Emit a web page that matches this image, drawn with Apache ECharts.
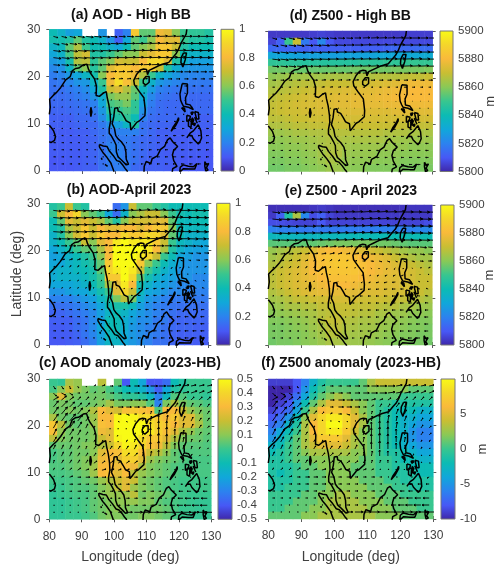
<!DOCTYPE html>
<html>
<head>
<meta charset="utf-8">
<style>html,body{margin:0;padding:0;background:#fff}#chart{width:500px;height:571px}</style>
<script src="https://cdn.jsdelivr.net/npm/echarts@6/dist/echarts.min.js"></script>
</head>
<body>
<div id="chart"></div>
<script>
// Cell centres of the gridded fields (rows are listed north to south)
const cellLons = [81.25,83.75,86.25,88.75,91.25,93.75,96.25,98.75,101.25,103.75,106.25,108.75,111.25,113.75,116.25,118.75,121.25,123.75,126.25,128.75];
const cellLats = [29.25,27.75,26.25,24.75,23.25,21.75,20.25,18.75,17.25,15.75,14.25,12.75,11.25,9.75,8.25,6.75,5.25,3.75,2.25,0.75];
// Wind vector rows, north to south; columns use cellLons
const windLats = [28.5,27,25.5,24,22.5,21,19.5,18,16.5,15,13.5,12,10.5,9,7.5,6,4.5,3,1.5];

const aodHighBB = [
[.40,.35,.28,.30,null,null,.25,null,.12,.20,.85,.55,.55,.78,.75,.60,.50,.48,.48,.45],
[.42,.42,.45,.55,.45,.40,.35,.25,.12,.30,.55,.50,.60,.80,.75,.75,.50,.45,.45,.42],
[.35,.38,.55,.66,.50,.40,.40,.35,.30,.40,.55,.60,.65,.85,.85,.70,.45,.40,.40,.40],
[.30,.35,.52,.68,.72,.45,.45,.50,.55,.60,.60,.70,.75,.85,.85,.60,.40,.35,.35,.35],
[.26,.28,.42,.66,.68,.48,.55,.60,.72,.70,.70,.80,.90,.90,.75,.45,.35,.28,.28,.28],
[.22,.24,.36,.55,.60,.46,.55,.75,.85,.85,.80,.85,.85,.70,.45,.33,.26,.25,.25,.25],
[.19,.21,.26,.30,.36,.42,.60,.80,.85,.85,.78,.66,.50,.36,.30,.26,.22,.21,.21,.21],
[.17,.18,.21,.25,.26,.36,.50,.78,.92,.82,.70,.50,.35,.26,.23,.21,.20,.18,.18,.18],
[.16,.16,.18,.20,.23,.30,.44,.70,.74,.66,.56,.38,.27,.20,.18,.17,.17,.16,.16,.16],
[.15,.15,.16,.18,.20,.25,.34,.58,.62,.62,.54,.33,.22,.17,.16,.15,.15,.14,.14,.14],
[.14,.14,.15,.16,.17,.20,.30,.52,.54,.58,.48,.28,.19,.15,.14,.14,.14,.14,.14,.14],
[.13,.13,.14,.15,.16,.18,.26,.46,.48,.52,.48,.24,.17,.15,.14,.14,.14,.14,.14,.14],
[.12,.12,.12,.14,.14,.16,.23,.38,.44,.48,.40,.20,.15,.14,.14,.14,.13,.12,.12,.12],
[.12,.12,.12,.13,.14,.14,.18,.24,.28,.36,.44,.16,.14,.13,.13,.12,.12,.12,.12,.12],
[.11,.11,.11,.12,.12,.14,.16,.18,.20,.20,.20,.16,.14,.12,.12,.11,.11,.11,.11,.11],
[.11,.11,.11,.11,.12,.13,.16,.18,.18,.18,.16,.14,.13,.12,.11,.11,.11,.11,.11,.11],
[.11,.11,.11,.11,.12,.13,.16,.20,.20,.18,.16,.14,.13,.12,.11,.11,.11,.11,.11,.11],
[.11,.11,.11,.11,.12,.13,.16,.20,.20,.18,.16,.14,.12,.12,.11,.11,.11,.11,.11,.10],
[.10,.10,.11,.11,.12,.13,.16,.19,.20,.18,.16,.13,.12,.12,.12,.11,.10,.10,.10,.10],
[.10,.10,.10,.11,.12,.12,.16,.18,.19,.18,.14,.13,.12,.12,.11,.11,.10,.10,.10,.10]];

const aodApril2023 = [
[.45,.50,.70,.50,.45,null,null,null,.15,.25,.70,.55,.55,.50,.45,.40,.40,.40,.40,.40],
[.50,.70,.80,.90,.60,.55,.50,.30,.15,.35,.60,.65,.70,.70,.60,.50,.42,.40,.42,.42],
[.40,.55,.75,.70,.75,.70,.65,.55,.45,.60,.70,.72,.72,.75,.75,.55,.40,.38,.40,.40],
[.40,.45,.65,.70,.85,.70,.80,.75,.75,.80,.80,.75,.80,.85,.85,.60,.40,.38,.38,.38],
[.35,.45,.60,.72,.85,.70,.85,.80,.80,.90,.85,.85,.90,.90,.75,.55,.40,.35,.35,.35],
[.35,.40,.50,.55,.70,.60,.75,.80,.95,1,.95,.95,.95,.85,.70,.50,.38,.35,.32,.30],
[.30,.35,.42,.50,.55,.55,.65,.80,1,1,1,1,.95,.80,.65,.45,.35,.30,.28,.28],
[.28,.30,.35,.40,.45,.50,.60,.80,1,1,1,.95,.90,.70,.50,.40,.30,.28,.25,.25],
[.30,.30,.35,.38,.42,.45,.55,.85,1,1,1,.85,.60,.50,.40,.33,.28,.25,.25,.25],
[.32,.35,.35,.38,.40,.42,.55,.90,.95,1,.95,.70,.50,.42,.35,.30,.25,.25,.25,.25],
[.32,.35,.35,.35,.38,.42,.50,.85,.85,1,.90,.55,.42,.35,.30,.28,.25,.25,.22,.22],
[.30,.30,.30,.32,.35,.40,.48,.65,.75,.95,.80,.42,.35,.30,.28,.25,.22,.22,.22,.22],
[.25,.25,.28,.30,.30,.35,.42,.50,.75,.90,.70,.38,.30,.28,.25,.22,.22,.20,.20,.20],
[.20,.20,.20,.23,.26,.28,.36,.43,.58,.68,.58,.33,.26,.23,.20,.18,.18,.18,.18,.18],
[.16,.16,.17,.19,.22,.25,.30,.40,.43,.43,.38,.28,.23,.20,.18,.17,.16,.16,.16,.16],
[.13,.13,.15,.17,.19,.22,.28,.36,.40,.36,.30,.26,.23,.20,.18,.16,.14,.14,.14,.14],
[.12,.12,.12,.15,.17,.22,.28,.40,.40,.33,.28,.23,.23,.18,.18,.14,.13,.13,.13,.13],
[.11,.11,.12,.15,.17,.22,.30,.40,.40,.33,.26,.23,.20,.18,.16,.14,.13,.13,.12,.12],
[.11,.11,.11,.13,.17,.21,.28,.38,.38,.31,.26,.23,.20,.18,.16,.13,.12,.12,.12,.12],
[.10,.10,.11,.12,.15,.19,.28,.36,.36,.30,.26,.23,.20,.16,.16,.13,.12,.11,.11,.11]];

const aodAnomaly = [
[0,-.02,.15,.12,null,null,.18,null,.05,-.4,-.1,-.2,-.4,-.4,-.35,-.1,-.05,0,0,0],
[.02,.10,.20,.12,.08,.05,.07,.02,-.03,-.10,-.12,-.15,-.25,-.38,-.20,-.05,-.02,0,0,0],
[.10,.25,.10,.07,.07,.07,.07,.05,.02,-.02,-.02,-.05,-.12,-.30,-.12,.03,.03,0,0,-.02],
[.06,.08,.07,.05,.05,.07,.09,.14,.08,.08,.10,.10,.03,-.30,.08,.15,.08,.05,.04,.02],
[.07,.07,.09,.07,.09,.16,.30,.25,.22,.32,.35,.32,.30,.03,.30,.30,.20,.12,.08,.06],
[.15,.07,.05,.05,.07,.13,.30,.30,.48,.50,.48,.42,.40,.35,.30,.35,.25,.25,.12,.06],
[.35,.18,.07,.05,.07,.12,.32,.30,.50,.50,.50,.50,.42,.38,.35,.30,.25,.25,.15,.06],
[.32,.12,.07,.07,.07,.09,.28,.25,.50,.50,.50,.50,.45,.38,.32,.25,.16,.12,.07,.05],
[.18,.09,.07,.07,.07,.09,.20,.25,.48,.50,.50,.42,.35,.35,.25,.16,.09,.07,.06,.04],
[.05,.06,.06,.07,.09,.10,.16,.20,.40,.48,.45,.40,.32,.28,.18,.09,.05,.04,.04,.03],
[.02,.04,.05,.07,.07,.10,.25,.30,.32,.42,.42,.32,.20,.17,.11,.05,.03,.03,.03,.03],
[.02,.04,.05,.07,.09,.13,.28,.30,.25,.38,.38,.25,.13,.09,.07,.05,.03,.02,.02,.02],
[.03,.03,.05,.07,.09,.13,.30,.30,.28,.32,.28,.16,.09,.07,.05,.03,.02,.02,.02,.02],
[.02,.02,.03,.05,.07,.13,.30,.32,.25,.30,.18,.12,.09,.07,.05,.03,.02,.02,.02,.02],
[.01,.01,.02,.03,.05,.07,.12,.16,.20,.25,.20,.09,.07,.05,.03,.02,.01,.01,.01,.01],
[0,0,.02,.03,.03,.05,.09,.12,.18,.25,.13,.09,.07,.05,.03,.02,.01,.01,.01,.01],
[-.02,0,.01,.02,.02,.05,.09,.12,.12,.13,.18,.07,.09,.07,.05,.02,.01,0,0,0],
[-.02,-.02,0,.01,.02,.05,.07,.09,.11,.11,.12,.09,.09,.05,.03,.02,.01,0,-.01,-.01],
[-.02,-.02,0,.01,.02,.05,.07,.09,.11,.09,.07,.07,.07,.07,.05,.02,0,0,-.01,-.01],
[-.02,-.02,0,0,.01,.03,.07,.09,.09,.07,.07,.09,.09,.07,.05,.02,0,-.01,-.01,-.01]];

const z500HighBB = [
[5804,5804,5804,5804,5804,5805,5806,5805,5804,5804,5804,5804,5804,5804,5804,5804,5805,5805,5805,5805],
[5806,5812,5850,5870,5818,5810,5822,5810,5807,5807,5807,5807,5807,5807,5807,5807,5807,5807,5807,5807],
[5814,5814,5813,5813,5812,5812,5812,5812,5812,5812,5812,5812,5812,5812,5813,5814,5814,5814,5815,5815],
[5830,5830,5830,5829,5828,5828,5828,5828,5828,5829,5829,5829,5829,5830,5830,5830,5831,5831,5831,5832],
[5848,5848,5847,5847,5846,5846,5846,5846,5846,5846,5846,5847,5847,5847,5848,5848,5848,5849,5849,5849],
[5857,5857,5857,5856,5856,5856,5856,5856,5856,5856,5857,5857,5857,5857,5857,5858,5858,5858,5858,5859],
[5861,5862,5863,5863,5864,5864,5864,5865,5865,5865,5865,5866,5866,5867,5867,5867,5868,5869,5869,5870],
[5864,5865,5866,5867,5868,5868,5869,5870,5870,5870,5871,5871,5872,5873,5874,5875,5876,5878,5878,5878],
[5866,5867,5868,5869,5870,5871,5872,5873,5873,5874,5874,5875,5875,5876,5877,5878,5879,5880,5880,5880],
[5868,5869,5870,5871,5872,5873,5874,5874,5875,5875,5876,5876,5876,5877,5878,5879,5880,5880,5880,5880],
[5869,5870,5871,5872,5873,5873,5874,5874,5875,5875,5876,5876,5876,5876,5877,5877,5878,5878,5878,5878],
[5869,5870,5871,5871,5872,5872,5873,5873,5873,5874,5874,5874,5874,5874,5874,5875,5875,5875,5875,5875],
[5868,5868,5869,5870,5870,5871,5871,5872,5872,5872,5872,5872,5872,5872,5872,5872,5872,5872,5872,5872],
[5866,5866,5867,5868,5868,5869,5869,5870,5870,5870,5870,5870,5870,5870,5870,5870,5869,5869,5869,5869],
[5863,5863,5864,5865,5865,5866,5866,5867,5867,5867,5867,5867,5867,5867,5866,5866,5866,5865,5865,5865],
[5861,5861,5862,5863,5863,5864,5865,5866,5866,5865,5865,5865,5865,5865,5864,5864,5863,5863,5863,5863],
[5860,5860,5861,5861,5862,5863,5865,5866,5866,5864,5863,5863,5863,5863,5862,5862,5862,5861,5861,5861],
[5859,5859,5860,5860,5861,5862,5864,5866,5866,5863,5862,5862,5862,5861,5861,5861,5860,5860,5860,5860],
[5858,5858,5859,5859,5860,5861,5863,5865,5864,5862,5861,5861,5861,5860,5860,5860,5859,5859,5859,5859],
[5857,5857,5858,5858,5859,5860,5861,5863,5863,5861,5860,5860,5859,5859,5859,5859,5858,5858,5858,5858]];

const z500April2023 = [
[5802,5802,5802,5802,5802,5803,5804,5803,5802,5802,5802,5802,5802,5802,5802,5802,5803,5803,5803,5803],
[5804,5812,5845,5865,5822,5808,5812,5806,5804,5804,5804,5804,5804,5804,5804,5804,5804,5804,5804,5804],
[5808,5808,5807,5806,5806,5806,5810,5806,5806,5806,5806,5806,5806,5806,5806,5806,5806,5806,5806,5808],
[5820,5820,5820,5819,5818,5818,5818,5818,5818,5819,5819,5819,5819,5820,5820,5820,5820,5820,5821,5822],
[5838,5838,5838,5837,5837,5837,5838,5838,5838,5838,5839,5839,5839,5839,5840,5840,5840,5840,5840,5840],
[5854,5854,5854,5854,5855,5855,5856,5857,5858,5858,5858,5858,5858,5857,5857,5856,5855,5854,5854,5854],
[5862,5864,5866,5868,5870,5874,5878,5880,5880,5878,5876,5874,5872,5870,5868,5866,5864,5862,5862,5860],
[5864,5866,5868,5870,5874,5878,5882,5884,5884,5884,5882,5880,5878,5876,5874,5870,5868,5866,5864,5864],
[5866,5868,5870,5872,5876,5880,5882,5884,5885,5885,5884,5882,5880,5878,5876,5874,5872,5870,5868,5866],
[5868,5870,5872,5874,5876,5880,5882,5884,5884,5884,5884,5882,5880,5878,5876,5875,5874,5872,5870,5868],
[5868,5870,5872,5874,5876,5878,5880,5882,5882,5882,5882,5880,5878,5876,5875,5874,5874,5872,5870,5870],
[5868,5870,5872,5874,5875,5876,5878,5880,5880,5880,5878,5876,5876,5875,5874,5874,5872,5872,5870,5870],
[5866,5868,5870,5872,5874,5875,5876,5876,5876,5876,5875,5875,5874,5874,5873,5872,5872,5870,5870,5868],
[5864,5865,5867,5869,5869,5871,5871,5873,5873,5873,5872,5871,5871,5871,5870,5869,5869,5867,5867,5865],
[5862,5863,5865,5865,5867,5867,5869,5869,5870,5870,5869,5869,5869,5868,5867,5867,5865,5865,5863,5863],
[5860,5861,5862,5863,5864,5865,5867,5868,5869,5869,5868,5867,5867,5865,5865,5863,5863,5861,5861,5860],
[5859,5859,5860,5861,5862,5864,5867,5869,5869,5867,5866,5865,5865,5864,5863,5862,5861,5860,5859,5859],
[5858,5858,5859,5860,5861,5863,5865,5868,5868,5866,5865,5864,5864,5863,5862,5861,5860,5859,5859,5858],
[5858,5858,5859,5859,5860,5862,5864,5867,5867,5865,5864,5864,5863,5862,5861,5860,5859,5859,5858,5858],
[5857,5858,5858,5859,5860,5861,5863,5865,5865,5864,5863,5863,5862,5861,5860,5859,5859,5858,5858,5857]];

const z500Anomaly = [
[-9,-9,-9,-8,-6,-3,-1,0,0,0,0,1,3,4,4,4,4,4,4,4],
[-10,-10,-10,-8,-5,-2,0,1,1,1,1,1,2,2,2,2,2,1,1,1],
[-10,-10,-9,-7,-4,-1,1,2,3,2,1,1,1,1,1,1,0,0,0,0],
[-10,-9,-8,-5,-2,1,3,5,5,4,3,2,1,0,0,-1,-1,-1,-1,-1],
[-9,-8,-7,-4,0,3,6,7,7,6,4,2,1,0,-1,-2,-2,-2,-3,-3],
[-8,-7,-5,-2,2,5,8,9,9,8,5,3,1,0,-1,-2,-3,-3,-4,-4],
[-7,-6,-3,-1,3,6,8,10,10,8,5,3,1,0,-1,-2,-3,-4,-5,-5],
[-6,-4,-2,0,3,6,8,9,9,7,4,2,1,0,-1,-2,-3,-5,-6,-6],
[-5,-3,-1,1,3,5,7,7,7,5,3,2,1,0,-1,-2,-3,-5,-6,-6],
[-3,-2,0,1,3,4,5,5,5,4,3,2,1,0,-1,-2,-3,-4,-5,-5],
[-2,-1,0,1,2,3,3,3,3,3,2,2,1,0,-1,-1,-2,-3,-4,-4],
[-1,-1,0,1,1,2,2,2,2,2,2,1,1,0,0,-1,-2,-2,-3,-3],
[-1,-1,-1,0,1,1,2,2,2,2,1,1,1,0,0,-1,-1,-2,-2,-2],
[-1,-2,-1,0,0,1,1,2,2,2,1,1,1,0,0,-1,-1,-1,-2,-2],
[-1,-1,-1,0,0,1,1,2,2,2,2,1,1,1,0,0,-1,-1,-1,-1],
[-1,-1,0,0,0,1,1,2,2,2,2,2,1,1,1,0,0,-1,-1,-1],
[0,0,0,0,1,1,2,2,3,3,2,2,2,1,1,1,0,0,0,0],
[0,0,0,1,1,1,2,3,3,3,3,2,2,2,1,1,1,0,0,0],
[0,0,1,1,1,2,2,3,3,3,3,3,2,2,2,1,1,1,0,0],
[1,1,1,1,2,2,3,3,3,3,3,3,3,2,2,2,1,1,1,1]];

const windUHighBB = [
[14,16,18,20,22,22,22,20,20,20,20,22,24,24,24,24,24,24,24,24],
[18,20,22,22,24,24,24,24,24,24,26,26,26,26,28,28,28,28,28,28],
[22,24,24,26,26,26,26,26,26,28,28,28,28,30,30,30,30,30,30,30],
[24,24,24,26,26,26,26,26,26,26,26,26,28,28,30,30,30,30,30,30],
[20,22,22,22,24,24,24,24,24,24,24,24,24,26,26,26,26,26,26,26],
[14,14,16,16,18,18,18,18,18,18,18,18,20,20,20,20,20,18,18,18],
[10,10,10,10,12,12,12,12,12,12,12,12,12,12,12,12,12,12,12,12],
[6,6,6,6,8,8,8,8,8,6,6,6,6,6,6,6,8,8,8,6],
[4,4,4,4,5,5,5,5,5,4,3,3,3,3,3,3,3,3,3,3],
[3,3,3,3,3,3,3,3,3,3,2,2,1,1,1,1,1,1,1,1],
[3,3,3,3,3,3,3,2,2,1,1,0,-1,-1,-2,-2,-2,-2,-2,-2],
[3,3,3,3,3,3,2,2,1,1,0,-2,-3,-4,-4,-4,-4,-4,-4,-4],
[3,3,3,3,3,3,2,2,1,1,-2,-3,-5,-6,-6,-6,-6,-6,-6,-6],
[4,4,4,4,4,3,3,2,1,-1,-3,-5,-6,-7,-7,-7,-7,-7,-7,-7],
[5,5,5,5,4,4,3,2,-1,-3,-5,-6,-7,-8,-8,-8,-8,-8,-8,-8],
[6,6,6,5,5,4,3,2,-1,-3,-5,-6,-7,-8,-8,-8,-9,-9,-9,-9],
[6,6,6,5,5,4,3,1,-2,-4,-5,-7,-8,-8,-8,-8,-9,-9,-9,-9],
[6,6,6,5,5,4,3,1,-2,-4,-6,-7,-8,-8,-8,-9,-9,-9,-9,-9],
[6,6,6,6,5,4,3,2,-2,-4,-6,-7,-8,-8,-8,-9,-9,-9,-9,-9]];
const windVHighBB = [
[-4,-4,-4,-3,-3,-2,-2,-2,-1,-1,0,1,1,1,1,1,0,0,0,0],
[-4,-4,-3,-3,-2,-2,-2,-1,-1,0,0,1,1,1,1,1,0,0,0,0],
[-3,-3,-3,-2,-2,-2,-1,-1,0,0,1,1,1,1,1,1,1,0,0,0],
[-3,-3,-2,-2,-2,-1,-1,0,0,1,1,1,1,1,1,1,1,1,0,0],
[-2,-2,-2,-2,-1,-1,0,0,1,1,1,1,1,1,1,1,1,1,1,0],
[-1,-1,-1,-1,0,0,0,1,1,1,1,1,1,1,1,0,0,0,0,0],
[0,0,0,0,0,0,1,1,1,1,1,1,0,0,0,0,0,0,0,0],
[0,0,0,1,1,1,1,1,1,1,0,0,0,0,0,0,0,0,0,0],
[0,0,1,1,1,1,1,1,1,0,0,0,0,-1,-1,-1,-1,0,0,0],
[0,1,1,1,1,1,1,1,0,0,0,0,-1,-1,-1,-1,-1,0,0,0],
[0,1,1,1,1,1,1,0,0,0,0,0,0,-1,-1,-1,0,0,0,0],
[0,0,1,1,1,1,0,0,0,0,0,0,0,0,0,0,0,0,0,0],
[0,0,0,0,0,0,0,0,0,0,0,0,0,0,0,0,0,0,0,0],
[0,0,0,0,0,0,0,0,0,0,0,0,0,0,0,0,0,0,0,0],
[0,0,0,0,0,0,0,0,0,0,0,0,0,0,0,0,0,0,0,0],
[0,0,0,0,0,0,0,0,0,0,0,0,0,0,0,0,0,0,0,0],
[0,0,0,0,0,0,0,0,0,0,0,0,0,0,0,0,0,0,0,0],
[0,0,0,0,0,0,0,0,0,0,0,0,0,0,0,0,0,0,0,0],
[0,0,0,0,0,0,0,0,0,0,0,0,0,0,0,0,0,0,0,0]];

const windUApril2023 = [
[24,26,26,26,26,26,26,26,26,26,26,28,28,28,30,30,30,30,30,30],
[28,28,28,28,28,28,30,30,30,30,30,30,30,32,32,32,34,34,34,34],
[30,30,30,30,32,32,32,32,32,32,32,32,34,34,34,34,36,36,36,36],
[30,30,30,30,30,30,30,32,32,32,32,32,34,34,34,34,34,34,34,34],
[24,26,26,28,28,28,28,28,28,28,28,28,30,30,30,30,30,30,30,28],
[18,18,20,20,20,20,20,20,20,20,22,22,22,22,22,22,22,22,20,20],
[14,14,14,14,14,14,14,14,12,12,14,14,14,14,14,16,14,14,14,14],
[8,10,10,10,8,8,8,6,6,6,8,8,8,8,8,6,6,8,10,10],
[5,6,6,6,6,4,3,2,2,3,3,3,2,0,-2,-4,-2,2,4,6],
[4,4,4,4,4,3,2,1,1,1,0,-2,-3,-6,-7,-7,-6,-3,0,2],
[3,3,3,4,3,3,2,1,0,-1,-2,-4,-6,-8,-9,-9,-8,-6,-4,-2],
[3,4,4,4,4,3,2,0,-1,-3,-5,-6,-8,-9,-9,-10,-9,-8,-7,-6],
[5,5,6,6,6,5,4,2,0,-2,-5,-7,-8,-9,-9,-10,-10,-9,-9,-8],
[6,7,8,8,8,7,5,3,0,-2,-5,-7,-8,-9,-10,-10,-10,-10,-10,-10],
[7,8,8,9,8,7,5,3,0,-3,-5,-7,-9,-9,-10,-10,-10,-10,-10,-10],
[8,8,9,8,7,6,4,2,0,-3,-6,-7,-9,-9,-10,-10,-11,-11,-11,-11],
[8,8,8,7,6,5,3,1,-2,-4,-6,-8,-9,-10,-10,-10,-11,-11,-11,-11],
[7,7,7,6,5,4,3,1,-2,-4,-6,-8,-9,-10,-10,-11,-11,-11,-11,-11],
[7,7,6,6,5,4,2,0,-2,-4,-6,-8,-9,-10,-10,-11,-11,-11,-11,-11]];
const windVApril2023 = [
[-3,-3,-2,-2,-2,-1,-1,0,0,1,1,2,2,2,1,1,0,0,-1,-1],
[-3,-2,-2,-2,-1,-1,0,0,1,1,1,2,2,2,1,1,0,0,-1,-1],
[-2,-2,-2,-1,-1,0,0,1,1,1,1,2,2,2,1,1,0,0,-1,-1],
[-2,-2,-1,-1,0,0,1,1,1,1,2,2,2,1,1,1,0,0,-1,-1],
[-1,-1,-1,0,0,1,1,1,1,2,2,2,1,1,1,0,0,-1,-1,-1],
[0,0,0,1,1,1,2,2,2,2,2,1,1,0,0,-1,-1,-1,-2,-2],
[0,1,1,2,2,2,2,3,3,2,2,1,0,-1,-1,-2,-2,-2,-2,-1],
[1,2,3,3,3,3,4,4,3,2,1,0,-1,-2,-3,-3,-3,-2,-1,0],
[2,3,4,4,4,4,4,4,3,2,1,0,-2,-3,-4,-4,-3,-1,1,2],
[2,3,4,4,4,4,4,3,2,1,0,-1,-2,-3,-3,-3,-2,0,2,3],
[2,3,3,3,3,3,3,2,1,0,-1,-2,-2,-2,-2,-1,0,1,2,3],
[1,2,2,2,2,2,2,1,0,-1,-1,-1,-1,-1,-1,0,0,1,2,2],
[1,1,1,1,1,1,1,0,0,0,0,0,0,0,0,0,0,1,1,1],
[0,0,0,0,0,0,0,0,0,0,0,0,0,0,0,0,0,0,0,1],
[0,0,0,0,0,0,0,0,0,0,0,0,0,0,0,0,0,0,0,0],
[0,0,0,0,0,0,0,0,0,0,0,0,0,0,0,0,0,0,0,0],
[0,0,0,0,0,0,0,0,0,0,0,0,0,0,0,0,0,0,0,0],
[0,0,0,0,0,0,0,0,0,0,0,0,0,0,0,0,0,0,0,0],
[0,0,0,0,0,0,0,0,0,0,0,0,0,0,0,0,0,0,0,0]];

const windUAnomaly = [
[2,2,1,1,1,2,3,3,3,4,5,6,7,7,7,6,6,5,5,5],
[3,4,3,2,2,2,3,4,4,4,5,6,6,7,7,6,6,6,5,5],
[5,5,4,3,3,2,2,4,6,6,6,5,4,3,3,3,3,3,3,3],
[5,6,5,4,4,3,2,3,5,5,5,3,2,2,2,3,2,2,2,2],
[5,6,6,5,4,3,2,2,3,3,2,2,1,1,1,2,2,2,2,2],
[5,6,6,5,3,2,1,1,1,1,1,1,1,0,1,1,2,2,2,2],
[4,5,5,4,2,1,0,0,0,0,0,1,0,0,0,1,1,2,2,2],
[3,4,4,3,2,1,0,-1,-1,0,1,1,0,0,0,0,1,1,2,2],
[3,3,3,2,1,1,1,0,0,1,1,1,0,0,0,0,1,1,1,1],
[2,2,2,2,1,2,2,2,2,2,2,1,0,0,0,0,1,1,1,1],
[2,2,2,2,2,2,3,3,3,3,3,1,1,0,0,0,1,1,1,1],
[1,2,2,2,2,3,3,3,3,3,3,2,1,1,0,0,0,1,1,1],
[1,2,2,3,3,3,4,4,3,3,3,3,2,1,1,0,0,0,0,0],
[1,2,3,3,4,4,4,4,3,3,3,3,3,2,1,1,0,-1,-1,-2],
[2,2,3,3,3,4,4,3,3,3,3,3,2,2,0,-1,-2,-3,-3,-3],
[2,2,2,3,3,3,3,3,3,3,3,3,3,2,0,-2,-4,-4,-4,-4],
[2,2,2,2,2,2,2,2,2,3,3,3,3,3,-1,-3,-5,-6,-6,-6],
[1,1,1,1,1,1,1,1,2,3,3,3,3,2,-2,-5,-6,-7,-7,-7],
[1,1,1,1,1,1,2,2,4,6,8,8,8,8,8,8,8,8,8,8]];
const windVAnomaly = [
[-3,-3,-3,-2,-1,1,1,0,0,0,0,0,0,0,0,1,1,1,1,1],
[-3,-2,-2,0,1,1,1,0,0,0,0,0,0,0,1,1,1,2,2,2],
[3,4,3,3,3,3,1,0,0,0,0,0,1,1,2,3,3,3,3,3],
[6,6,5,4,4,3,2,0,0,0,0,0,2,3,3,4,4,4,3,3],
[7,7,7,6,4,3,2,1,0,-1,0,1,3,4,5,5,4,4,4,3],
[7,8,7,6,4,2,1,0,-1,-1,0,2,5,6,6,5,5,4,3,3],
[7,7,7,6,4,2,0,-1,-1,-1,1,3,6,7,7,6,5,4,3,2],
[6,6,6,5,3,2,1,0,-1,0,2,4,7,8,8,6,5,4,3,2],
[5,5,5,4,3,2,2,1,1,2,3,5,8,9,8,6,5,3,2,2],
[4,4,4,3,3,3,3,3,3,3,4,5,7,8,7,6,4,3,2,1],
[4,4,4,3,3,3,3,3,3,3,3,4,5,6,5,4,3,2,1,1],
[3,3,3,3,3,2,2,2,2,2,2,3,3,3,3,2,2,1,1,0],
[2,2,2,2,1,1,1,1,1,1,1,1,1,1,1,1,1,0,0,0],
[1,1,1,0,0,0,0,0,0,0,0,0,0,0,0,0,0,0,-1,-1],
[1,0,0,0,0,0,0,0,0,0,0,0,0,0,0,0,0,0,0,0],
[0,0,0,0,0,0,0,0,0,0,0,0,0,0,0,0,0,0,0,0],
[0,0,0,0,0,0,0,0,0,0,0,0,0,0,0,0,0,0,0,0],
[0,0,0,0,0,0,0,0,0,0,0,0,0,0,0,0,0,0,0,0],
[0,0,0,0,0,0,0,0,0,0,0,0,0,0,0,0,0,0,0,0]];

// Coastlines as lon/lat outlines; points just below 0 are cut by the axes
const coastMainland = [[80,12],[80.3,13.5],[80.1,15.2],[81.2,16],[82.3,16.7],[83.5,17.7],[85,19.3],[86.4,20],[87,21.2],[88,21.7],[89,21.8],[90.5,22.5],[91.5,22.6],[92,21.5],[92.5,20.8],[93.8,19.5],[94.4,18],[94.3,16],[95.3,15.8],[96.5,16.5],[97.4,16.8],[97.7,15.5],[98.2,14],[98.6,12],[98.7,10.5],[98.3,9],[98.3,8],[99,7.4],[99.8,6.4],[100.4,5.5],[100.5,4],[101,3],[101.8,2.5],[102.8,1.8],[103.5,1.3],[104.2,1.4],[103.5,2.5],[103.4,4],[103,5.2],[102,6.2],[101,6.8],[100.3,7.5],[99.9,9],[99.2,10],[99.7,11.5],[100,13.3],[100.9,13.4],[101,12.7],[102,12.4],[102.8,11.5],[103.5,10.6],[104.7,10.2],[104.9,8.7],[105.5,9.2],[106.7,10.3],[107.5,10.6],[109.2,11.7],[109.3,13],[108.9,15.5],[107.5,16.8],[106,18.3],[105.8,19.2],[106.7,20.5],[107.8,21.4],[108.8,21.6],[109.7,21.5],[110,20.4],[110.5,20.5],[110.5,21.3],[112,21.8],[113.5,22.3],[114.5,22.6],[116.5,23],[117.8,24.1],[118.7,24.8],[119.5,25.8],[120.2,27],[121,28],[121.8,29],[122,30]];
const coastSriLanka = [[80,9.7],[80.8,9],[81.3,8.5],[81.9,7.3],[81.6,6.5],[80.5,6],[80,6.2]];
const coastHainan = [[108.7,19.3],[109.5,20],[110.5,20],[111,19.6],[110.5,18.8],[109.5,18.2],[108.7,18.6],[108.7,19.3]];
const coastTaiwan = [[121,25],[121.9,25],[121.5,23.5],[120.8,22],[120.2,23],[120.3,24],[121,25]];
const coastAndaman = [[92.7,13.5],[93,12.5],[92.7,11.5],[92.5,12.5],[92.7,13.5]];
const coastSumatra = [[95.3,5.6],[96.5,5.3],[97.6,5.2],[98.3,4.3],[99.5,3.3],[100.6,2.2],[101.5,2],[102.5,1.2],[103.2,0.5],[103.8,0],[103.9,-0.5],[99.7,-0.5],[99.7,0],[98.8,1.7],[97.6,2.9],[96.5,3.8],[95.3,5.1],[95.3,5.6]];
const coastNias = [[97,1.4],[97.8,1],[98,0.6],[97.5,0.7],[97,1.4]];
const coastSimeulue = [[95.9,2.8],[96.3,2.5],[96.1,2.4],[95.9,2.8]];
const coastBorneo = [[108.9,-0.5],[109,1],[109.6,2],[111,1.6],[111.4,2.6],[113,3.2],[114,4.6],[115.2,5.2],[116.1,6.6],[116.9,7],[117.7,6.2],[119.2,5.2],[118,4.4],[117.6,3.4],[118,2.2],[119,1],[117.7,0.5],[117.5,-0.5]];
const coastSulawesi = [[119.8,-0.5],[120,0.8],[120.9,1.3],[122.5,1],[124,0.9],[125.1,1.6],[124.4,0.4],[123,0.4],[121,0.5],[120.2,0],[120.1,-0.5]];
const coastHalmahera = [[127.5,2],[128,1.3],[128.7,1.6],[128,0.7],[128.5,0.2],[127.8,0],[127.5,1],[127.5,2]];
const coastLuzon = [[120.6,18.5],[122.2,18.4],[122.2,16.5],[121.6,15.5],[121.7,14.2],[123,14],[124,13],[123.7,12.7],[122.5,13.5],[121,13.7],[120.6,14.2],[120.1,15],[119.9,16.3],[120.4,16.7],[120.6,18.5]];
const coastMindoro = [[120.4,13.4],[121.3,13.3],[121.5,12.5],[121.1,12.2],[120.4,13.4]];
const coastPanay = [[122,11.8],[123.1,11.6],[122.8,10.7],[122,10.5],[122,11.8]];
const coastMasbate = [[123.2,12.4],[124,12.5],[123.6,11.9],[123.2,12.4]];
const coastNegros = [[122.5,10.9],[123.4,10.9],[123.3,9.2],[122.5,9.5],[122.5,10.9]];
const coastSamar = [[124.4,12.6],[125.5,12.4],[125.7,11],[125,11],[124.4,12.6]];
const coastLeyte = [[124.4,11.4],[125,11],[125.2,10.1],[124.8,10.1],[124.4,11.4]];
const coastCebu = [[123.6,11.3],[124.1,10.8],[123.6,9.8],[123.6,11.3]];
const coastBohol = [[123.8,10],[124.6,10.1],[124.4,9.6],[123.8,9.7],[123.8,10]];
const coastMindanao = [[122,7],[123,8],[124,8.5],[125.5,9.8],[126.3,8.5],[126.5,7],[126,6.2],[125.5,5.7],[125,6],[124,6.8],[123.5,7.5],[122.5,7.5],[122,7]];
const coastPalawan = [[117.2,8.4],[118.5,9.5],[119.5,10.8],[119.5,11.3],[119,10.5],[117.8,9.3],[117.2,8.4]];

const coastPieces = [coastMainland,coastSriLanka,coastHainan,coastTaiwan,coastAndaman,coastSumatra,coastNias,coastSimeulue,coastBorneo,coastSulawesi,coastHalmahera,coastLuzon,coastMindoro,coastPanay,coastMasbate,coastNegros,coastSamar,coastLeyte,coastCebu,coastBohol,coastMindanao,coastPalawan];

const parula = ['#3E26A8','#4758F5','#2C82EF','#11A7DA','#0CBBB4','#38C68F','#8AC956','#C9BE33','#F9BA3B','#F4D62B','#F9FB15'];
const inkTick = '#5a5a5a', inkText = '#404040', font = 'Liberation Sans';

const windHighBB = {u: windUHighBB, v: windVHighBB, scale: 0.32};
const windApril = {u: windUApril2023, v: windVApril2023, scale: 0.32};
const windAnom = {u: windUAnomaly, v: windVAnomaly, scale: 1.0};

// Map panels with their colour bars
const panels = [
  {title:'(a) AOD - High BB',        tx:131, ty:14.5, box:[49.3,29.3,163.7,141.7], bar:[221,13],   field:aodHighBB,    wind:windHighBB, range:[0,1],      step:.2},
  {title:'(b) AOD-April 2023',       tx:129, ty:189,  box:[49.3,203.3,159,141.7],  bar:[216.7,13.3], field:aodApril2023, wind:windApril,  range:[0,1],      step:.2, yName:'Latitude (deg)'},
  {title:'(c) AOD anomaly (2023-HB)',tx:130, ty:362,  box:[49.3,379,162,140.3],    bar:[218,14],   field:aodAnomaly,   wind:windAnom,   range:[-.5,.5],   step:.1, xName:'Longitude (deg)'},
  {title:'(d) Z500 - High BB',       tx:350.3,ty:15.5,box:[268.3,31,164.4,140.5],  bar:[440,13],   field:z500HighBB,   wind:windHighBB, range:[5800,5900],step:20, unit:'m', unitGap:31, right:true},
  {title:'(e) Z500 - April 2023',    tx:351, ty:190,  box:[268.3,205,164,140],     bar:[440.7,13.3],field:z500April2023,wind:windApril,  range:[5800,5900],step:20, unit:'m', unitGap:29, right:true},
  {title:'(f) Z500 anomaly (2023-HB)',tx:351,ty:362.5,box:[268.3,379,165,140],     bar:[441,14],   field:z500Anomaly,  wind:windAnom,   range:[-10,10],   step:5,  unit:'m', unitGap:21, right:true, xName:'Longitude (deg)'}
];

const grid = [], xAxis = [], yAxis = [], series = [], visualMap = [], title = [];

function hiddenValue(gridIndex, min, max) { return {type:'value', gridIndex, min, max, show:false}; }

function arrowItem(scale) {
  return (params, api) => {
    const p = api.coord([api.value(0), api.value(1)]);
    const dx = api.value(2) * scale, dy = -api.value(3) * scale;
    const q = [p[0] + dx, p[1] + dy];
    const c = 0.27 * Math.cos(0.45), s = 0.27 * Math.sin(0.45);
    const b1 = [q[0] - c*dx + s*dy, q[1] - c*dy - s*dx];
    const b2 = [q[0] - c*dx - s*dy, q[1] - c*dy + s*dx];
    return {type:'polyline', silent:true, shape:{points:[p, q, b1, q, b2]},
            style:{fill:'none', stroke:'#000', lineWidth:0.9}};
  };
}

function tickAxis(extra) {
  return Object.assign({type:'value', axisLine:{show:false}, splitLine:{show:false},
    axisTick:{show:true, length:3, lineStyle:{color:inkTick, width:1}}}, extra);
}

panels.forEach(pn => {
  const [l, t, w, h] = pn.box;
  // heat cells on their own band axes
  const hg = grid.length;
  grid.push({left:l, top:t, width:w, height:h});
  xAxis.push({type:'category', gridIndex:hg, data:cellLons, show:false});
  yAxis.push({type:'category', gridIndex:hg, data:cellLats.slice().reverse(), show:false});
  const cells = [];
  pn.field.forEach((row, r) => row.forEach((v, c) => cells.push([c, cellLats.length - 1 - r, v])));
  visualMap.push({show:false, seriesIndex:series.length, dimension:2, min:pn.range[0], max:pn.range[1], inRange:{color:parula}});
  series.push({type:'heatmap', xAxisIndex:xAxis.length-1, yAxisIndex:yAxis.length-1, data:cells, silent:true, z:1, progressive:0});

  // lon/lat axes, wind vectors and coast on top
  const mg = grid.length;
  grid.push({left:l, top:t, width:w, height:h});
  const xi = xAxis.length, yi = yAxis.length;
  xAxis.push(tickAxis({gridIndex:mg, position:'bottom', min:80, max:130, interval:10,
    axisLabel:{show:!!pn.xName, color:inkText, fontFamily:font, fontSize:12, margin:11},
    name:pn.xName||'', nameLocation:'middle', nameGap:31, nameMoveOverlap:false, nameTextStyle:{color:inkText, fontFamily:font, fontSize:14}}));
  xAxis.push(tickAxis({gridIndex:mg, position:'top', min:80, max:130, interval:10, axisLabel:{show:false}}));
  yAxis.push(tickAxis({gridIndex:mg, position:'left', min:0, max:30, interval:10,
    axisLabel:{show:!pn.right, color:inkText, fontFamily:font, fontSize:12, margin:9},
    name:pn.yName||'', nameLocation:'middle', nameGap:25, nameRotate:90, nameMoveOverlap:false, nameTextStyle:{color:inkText, fontFamily:font, fontSize:14}}));
  yAxis.push(tickAxis({gridIndex:mg, position:'right', min:0, max:30, interval:10, axisLabel:{show:false}}));

  const arrows = [];
  windLats.forEach((lat, r) => cellLons.forEach((lon, c) => arrows.push([lon, lat, pn.wind.u[r][c], pn.wind.v[r][c]])));
  series.push({type:'custom', xAxisIndex:xi, yAxisIndex:yi, data:arrows, clip:true, silent:true, z:3,
    encode:{x:0, y:1}, renderItem:arrowItem(pn.wind.scale)});
  coastPieces.forEach(piece => {
    series.push({type:'line', xAxisIndex:xi, yAxisIndex:yi, data:piece, showSymbol:false, silent:true, z:4, clip:true,
      lineStyle:{color:'#000', width:1.5}});
  });

  // colour bar
  const cg = grid.length;
  grid.push({left:pn.bar[0], top:t, width:pn.bar[1], height:h});
  const cx = xAxis.length, cy = yAxis.length;
  xAxis.push(hiddenValue(cg, 0, 1));
  yAxis.push({type:'value', gridIndex:cg, position:'right', min:pn.range[0], max:pn.range[1], interval:pn.step,
    axisLine:{show:false}, axisTick:{show:false}, splitLine:{show:false},
    axisLabel:{color:inkText, fontFamily:font, fontSize:11.5, margin:5, formatter:v => String(parseFloat(v.toFixed(1)))},
    name:pn.unit||'', nameLocation:'middle', nameGap:pn.unitGap||30, nameRotate:90, nameMoveOverlap:false, nameTextStyle:{color:inkText, fontFamily:font, fontSize:13}});
  const stops = parula.map((color, i) => ({offset:i/(parula.length-1), color}));
  series.push({type:'custom', xAxisIndex:cx, yAxisIndex:cy, data:[[pn.range[0], pn.range[1]]], silent:true, z:2,
    renderItem:(params, api) => {
      const a = api.coord([0, api.value(1)]), b = api.coord([1, api.value(0)]);
      return {type:'rect', shape:{x:a[0], y:a[1], width:b[0]-a[0], height:b[1]-a[1]},
        style:{fill:new echarts.graphic.LinearGradient(0,1,0,0,stops), stroke:'#777', lineWidth:1}};
    }});

  title.push({text:pn.title, left:pn.tx, top:pn.ty-7, textAlign:'center', padding:0,
    textStyle:{fontFamily:font, fontWeight:'bold', fontSize:14, color:'#111', lineHeight:16}});
});

const chart = echarts.init(document.getElementById('chart'), null, {renderer:'canvas'});
chart.setOption({animation:false, backgroundColor:'#fff', title, grid, xAxis, yAxis, visualMap, series});
</script>
</body>
</html>
